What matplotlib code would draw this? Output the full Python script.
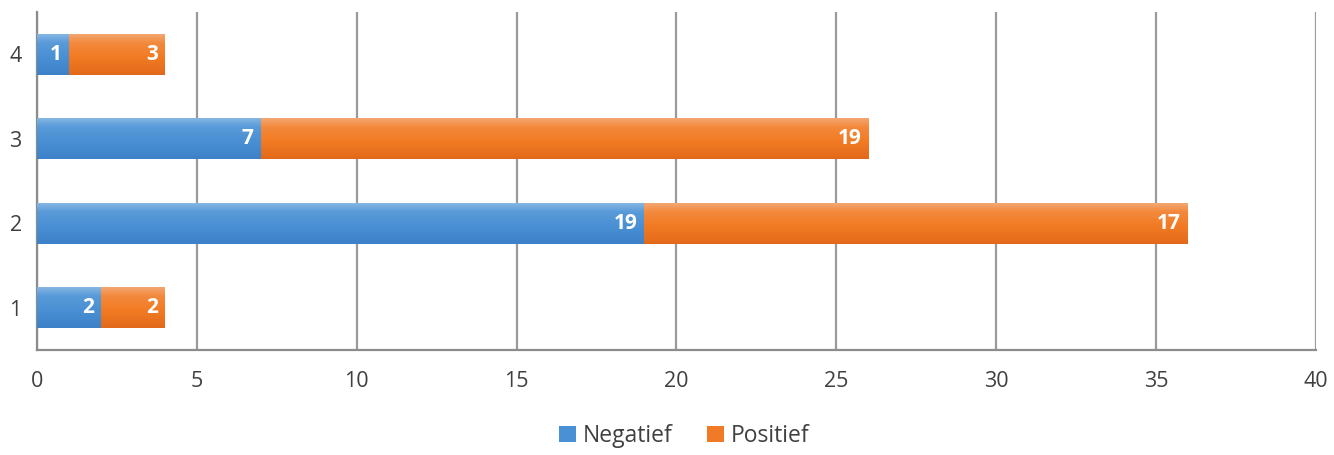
import matplotlib
matplotlib.use("Agg")
import matplotlib.pyplot as plt
from matplotlib.colors import LinearSegmentedColormap
import numpy as np

plt.rcParams['font.family'] = ['Open Sans', 'DejaVu Sans']

# data
categories = ['1', '2', '3', '4']
negatief = [2, 19, 7, 1]
positief = [2, 17, 19, 3]

blue_cmap = LinearSegmentedColormap.from_list(
    'b', [(0, '#3d82c9'), (0.45, '#4a90d4'), (0.8, '#5a9bd9'), (1, '#85b6e4')])
orange_cmap = LinearSegmentedColormap.from_list(
    'o', [(0, '#e2691a'), (0.45, '#f27b24'), (0.8, '#f38a3e'), (1, '#f4a672')])

fig = plt.figure(figsize=(13.34, 4.55), dpi=100)
ax = fig.add_axes([0.0277, 0.2308, 0.9588, 0.7428])

y = np.arange(len(categories))
h = 0.48
b1 = ax.barh(y, negatief, h, color='#4a90d4', label='Negatief', zorder=3)
b2 = ax.barh(y, positief, h, left=negatief, color='#f07a26', label='Positief', zorder=3)

ax.set_xlim(0, 40)
ax.set_ylim(-0.5, 3.5)

# vertical gradient fill on each bar
grad = np.linspace(0, 1, 64).reshape(-1, 1)
for bars, cmap in ((b1, blue_cmap), (b2, orange_cmap)):
    for r in bars:
        x0, y0 = r.get_x(), r.get_y()
        im = ax.imshow(grad, cmap=cmap, aspect='auto', origin='lower',
                       extent=[x0, x0 + r.get_width(), y0, y0 + r.get_height()], zorder=4)
        im.set_clip_path(r)

# value labels at inner end of each segment
for bars, lefts in ((b1, [0] * len(negatief)), (b2, negatief)):
    for r, l in zip(bars, lefts):
        w = r.get_width()
        ax.annotate(str(int(w)), (l + w, r.get_y() + r.get_height() / 2),
                    xytext=(-5, 0), textcoords='offset points', ha='right', va='center',
                    color='white', fontweight='bold', fontsize=15, zorder=5)

ax.set_xlim(0, 40)
ax.set_ylim(-0.5, 3.5)
ax.set_xticks(range(0, 41, 5))
ax.set_yticks(y)
ax.set_yticklabels(categories)
ax.tick_params(length=0, labelsize=15.5, colors='#404040')
ax.tick_params(axis='x', pad=15)
ax.tick_params(axis='y', pad=11)

ax.grid(axis='x', color='#9a9a9a', linewidth=1.6, zorder=0)
for s in ['top', 'right']:
    ax.spines[s].set_visible(False)
for s in ['left', 'bottom']:
    ax.spines[s].set_color('#8c8c8c')
    ax.spines[s].set_linewidth(1.6)

fig.legend(handles=[b1, b2], loc='lower center', bbox_to_anchor=(0.513, -0.03), ncol=2,
           frameon=False, fontsize=16.5, handlelength=0.75, handleheight=0.75,
           handletextpad=0.3, columnspacing=1.5, labelcolor='#404040')

fig.savefig('out.png', dpi=100)
